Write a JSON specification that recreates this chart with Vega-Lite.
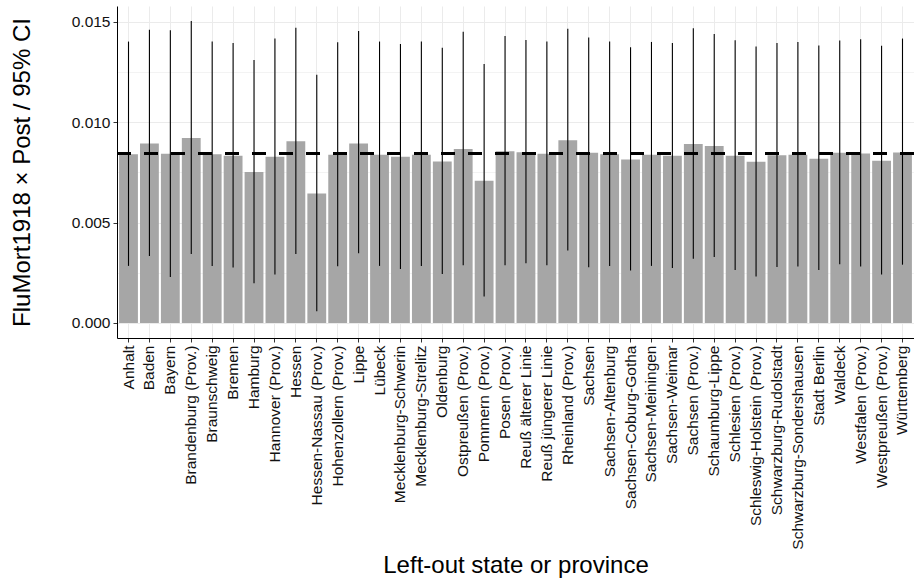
{
  "$schema": "https://vega.github.io/schema/vega-lite/v6.json",
  "autosize": {"type": "none"},
  "width": 797,
  "height": 332,
  "padding": {"left": 117, "top": 6, "right": 0, "bottom": 245},
  "background": "white",
  "config": {
    "font": "Liberation Sans",
    "view": {"stroke": null}
  },
  "data": {
    "values": [
      {"state": "Anhalt", "est": 0.00840, "lo": 0.00284, "hi": 0.01401},
      {"state": "Baden", "est": 0.00894, "lo": 0.00333, "hi": 0.01460},
      {"state": "Bayern", "est": 0.00842, "lo": 0.00229, "hi": 0.01457},
      {"state": "Brandenburg (Prov.)", "est": 0.00921, "lo": 0.00343, "hi": 0.01503},
      {"state": "Braunschweig", "est": 0.00840, "lo": 0.00284, "hi": 0.01401},
      {"state": "Bremen", "est": 0.00833, "lo": 0.00276, "hi": 0.01394},
      {"state": "Hamburg", "est": 0.00751, "lo": 0.00198, "hi": 0.01309},
      {"state": "Hannover (Prov.)", "est": 0.00827, "lo": 0.00241, "hi": 0.01416},
      {"state": "Hessen", "est": 0.00904, "lo": 0.00343, "hi": 0.01470},
      {"state": "Hessen-Nassau (Prov.)", "est": 0.00644, "lo": 0.00058, "hi": 0.01236},
      {"state": "Hohenzollern (Prov.)", "est": 0.00837, "lo": 0.00282, "hi": 0.01398},
      {"state": "Lippe", "est": 0.00894, "lo": 0.00347, "hi": 0.01454},
      {"state": "Lübeck", "est": 0.00838, "lo": 0.00284, "hi": 0.01401},
      {"state": "Mecklenburg-Schwerin", "est": 0.00828, "lo": 0.00269, "hi": 0.01389},
      {"state": "Mecklenburg-Strelitz", "est": 0.00838, "lo": 0.00284, "hi": 0.01401},
      {"state": "Oldenburg", "est": 0.00804, "lo": 0.00244, "hi": 0.01370},
      {"state": "Ostpreußen (Prov.)", "est": 0.00866, "lo": 0.00287, "hi": 0.01450},
      {"state": "Pommern (Prov.)", "est": 0.00708, "lo": 0.00132, "hi": 0.01289},
      {"state": "Posen (Prov.)", "est": 0.00855, "lo": 0.00287, "hi": 0.01429},
      {"state": "Reuß älterer Linie", "est": 0.00850, "lo": 0.00297, "hi": 0.01409},
      {"state": "Reuß jüngerer Linie", "est": 0.00842, "lo": 0.00287, "hi": 0.01401},
      {"state": "Rheinland (Prov.)", "est": 0.00909, "lo": 0.00361, "hi": 0.01465},
      {"state": "Sachsen", "est": 0.00847, "lo": 0.00277, "hi": 0.01421},
      {"state": "Sachsen-Altenburg", "est": 0.00840, "lo": 0.00284, "hi": 0.01401},
      {"state": "Sachsen-Coburg-Gotha", "est": 0.00814, "lo": 0.00261, "hi": 0.01373},
      {"state": "Sachsen-Meiningen", "est": 0.00838, "lo": 0.00284, "hi": 0.01399},
      {"state": "Sachsen-Weimar", "est": 0.00832, "lo": 0.00274, "hi": 0.01394},
      {"state": "Sachsen (Prov.)", "est": 0.00891, "lo": 0.00320, "hi": 0.01467},
      {"state": "Schaumburg-Lippe", "est": 0.00881, "lo": 0.00328, "hi": 0.01439},
      {"state": "Schlesien (Prov.)", "est": 0.00833, "lo": 0.00264, "hi": 0.01408},
      {"state": "Schleswig-Holstein (Prov.)", "est": 0.00802, "lo": 0.00231, "hi": 0.01376},
      {"state": "Schwarzburg-Rudolstadt", "est": 0.00835, "lo": 0.00279, "hi": 0.01394},
      {"state": "Schwarzburg-Sondershausen", "est": 0.00837, "lo": 0.00281, "hi": 0.01399},
      {"state": "Stadt Berlin", "est": 0.00818, "lo": 0.00264, "hi": 0.01381},
      {"state": "Waldeck", "est": 0.00847, "lo": 0.00292, "hi": 0.01406},
      {"state": "Westfalen (Prov.)", "est": 0.00843, "lo": 0.00281, "hi": 0.01413},
      {"state": "Westpreußen (Prov.)", "est": 0.00807, "lo": 0.00241, "hi": 0.01380},
      {"state": "Württemberg", "est": 0.00848, "lo": 0.00290, "hi": 0.01416}
    ]
  },
  "encoding": {
    "x": {
      "field": "state",
      "type": "nominal",
      "sort": null,
      "scale": {"paddingInner": 0.1, "paddingOuter": 0.1},
      "axis": {
        "title": "Left-out state or province",
        "titleFontSize": 24,
        "titleFontWeight": "normal",
        "titleColor": "#000000",
        "titlePadding": 15,
        "labelAngle": -90,
        "labelAlign": "right",
        "labelBaseline": "middle",
        "labelFontSize": 15.5,
        "labelColor": "#111111",
        "labelPadding": 3,
        "labelOverlap": false,
        "labelLimit": 0,
        "bandPosition": 0.5,
        "tickSize": 4,
        "tickColor": "#333333",
        "domainColor": "#000000",
        "domainWidth": 1,
        "grid": true,
        "gridColor": "#EBEBEB",
        "gridWidth": 1
      }
    }
  },
  "layer": [
    {
      "mark": {"type": "bar", "color": "#A6A6A6"},
      "encoding": {
        "y": {
          "field": "est",
          "type": "quantitative",
          "scale": {"domain": [-0.00075, 0.01578], "nice": false, "zero": false},
          "axis": {
            "title": "FluMort1918 × Post / 95% CI",
            "titleFontSize": 24,
            "titleFontWeight": "normal",
            "titleColor": "#000000",
            "titlePadding": 37,
            "values": [0, 0.0025, 0.005, 0.0075, 0.01, 0.0125, 0.015],
            "format": ".3f",
            "labelExpr": "round(datum.value * 400) % 2 == 0 ? datum.label : ''",
            "labelFontSize": 15.5,
            "labelColor": "#111111",
            "labelPadding": 3,
            "tickSize": 4,
            "tickColor": "#333333",
            "tickOpacity": {"condition": {"test": "round(datum.value * 400) % 2 == 0", "value": 1}, "value": 0},
            "domainColor": "#000000",
            "domainWidth": 1,
            "grid": true,
            "gridColor": "#EBEBEB",
            "gridWidth": {"condition": {"test": "round(datum.value * 400) % 2 == 0", "value": 1}, "value": 0.6}
          }
        },
        "y2": {"datum": 0}
      }
    },
    {
      "mark": {"type": "rule", "color": "#000000", "strokeWidth": 1.1},
      "encoding": {
        "y": {"field": "lo", "type": "quantitative"},
        "y2": {"field": "hi"}
      }
    },
    {
      "mark": {"type": "rule", "color": "#000000", "strokeWidth": 2.7, "strokeDash": [13.4, 13.6]},
      "encoding": {
        "x": {"value": 0},
        "x2": {"value": "width"},
        "y": {"datum": 0.00843}
      }
    }
  ]
}
